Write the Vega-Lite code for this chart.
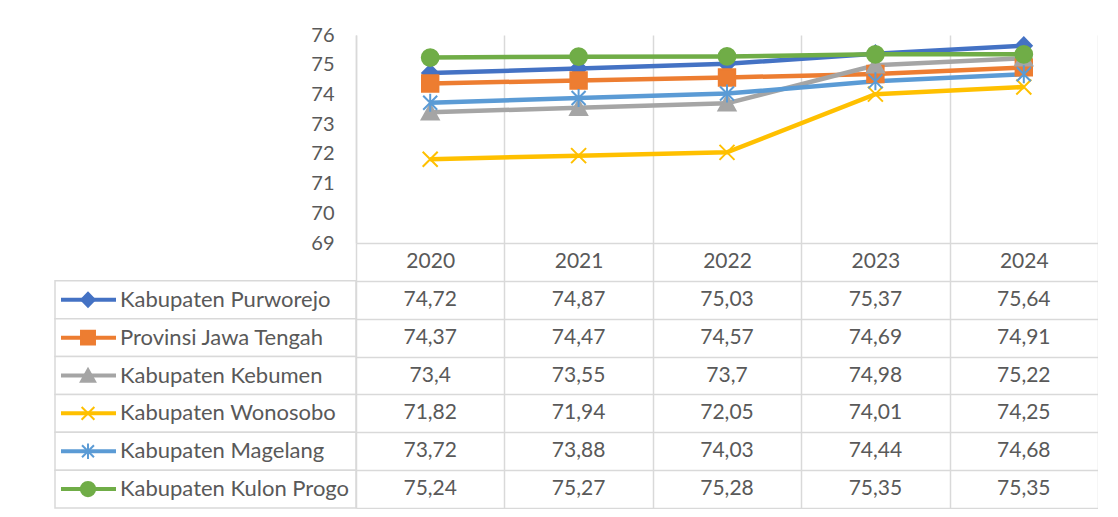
{
  "$schema": "https://vega.github.io/schema/vega-lite/v6.json",
  "padding": {"left": 54, "top": 25, "right": 0, "bottom": 0},
  "background": "white",
  "config": {
    "view": {"stroke": null},
    "font": "Lato",
    "locale": {"number": {"decimal": ",", "thousands": ".", "grouping": [3], "currency": ["", ""]}}
  },
  "datasets": {
    "ipm": [
      {"series": "Kabupaten Purworejo", "year": "2020", "value": 74.72},
      {"series": "Kabupaten Purworejo", "year": "2021", "value": 74.87},
      {"series": "Kabupaten Purworejo", "year": "2022", "value": 75.03},
      {"series": "Kabupaten Purworejo", "year": "2023", "value": 75.37},
      {"series": "Kabupaten Purworejo", "year": "2024", "value": 75.64},
      {"series": "Provinsi Jawa Tengah", "year": "2020", "value": 74.37},
      {"series": "Provinsi Jawa Tengah", "year": "2021", "value": 74.47},
      {"series": "Provinsi Jawa Tengah", "year": "2022", "value": 74.57},
      {"series": "Provinsi Jawa Tengah", "year": "2023", "value": 74.69},
      {"series": "Provinsi Jawa Tengah", "year": "2024", "value": 74.91},
      {"series": "Kabupaten Kebumen", "year": "2020", "value": 73.4},
      {"series": "Kabupaten Kebumen", "year": "2021", "value": 73.55},
      {"series": "Kabupaten Kebumen", "year": "2022", "value": 73.7},
      {"series": "Kabupaten Kebumen", "year": "2023", "value": 74.98},
      {"series": "Kabupaten Kebumen", "year": "2024", "value": 75.22},
      {"series": "Kabupaten Wonosobo", "year": "2020", "value": 71.82},
      {"series": "Kabupaten Wonosobo", "year": "2021", "value": 71.94},
      {"series": "Kabupaten Wonosobo", "year": "2022", "value": 72.05},
      {"series": "Kabupaten Wonosobo", "year": "2023", "value": 74.01},
      {"series": "Kabupaten Wonosobo", "year": "2024", "value": 74.25},
      {"series": "Kabupaten Magelang", "year": "2020", "value": 73.72},
      {"series": "Kabupaten Magelang", "year": "2021", "value": 73.88},
      {"series": "Kabupaten Magelang", "year": "2022", "value": 74.03},
      {"series": "Kabupaten Magelang", "year": "2023", "value": 74.44},
      {"series": "Kabupaten Magelang", "year": "2024", "value": 74.68},
      {"series": "Kabupaten Kulon Progo", "year": "2020", "value": 75.24},
      {"series": "Kabupaten Kulon Progo", "year": "2021", "value": 75.27},
      {"series": "Kabupaten Kulon Progo", "year": "2022", "value": 75.28},
      {"series": "Kabupaten Kulon Progo", "year": "2023", "value": 75.35},
      {"series": "Kabupaten Kulon Progo", "year": "2024", "value": 75.35}
    ]
  },
  "data": {"name": "ipm"},
  "columns": 2,
  "spacing": 0,
  "bounds": "flush",
  "align": "each",
  "concat": [
    {"width": 301, "height": 208, "data": {"values": []}, "mark": "point"},
    {
      "width": 742,
      "height": 208,
      "encoding": {
        "x": {"field": "year", "type": "nominal", "scale": {"type": "band", "paddingInner": 0, "paddingOuter": 0},
          "axis": {"title": null, "orient": "bottom", "grid": true, "tickBand": "extent", "gridColor": "#d9d9d9", "gridWidth": 1.5, "ticks": false, "domain": false, "labelAngle": 0, "labelFontSize": 21, "labelColor": "#595959", "labelPadding": 18, "labelBaseline": "middle"}},
        "y": {"field": "value", "type": "quantitative", "scale": {"domain": [69, 76], "nice": false, "zero": false},
          "axis": {"title": null, "values": [69, 70, 71, 72, 73, 74, 75, 76], "grid": false, "ticks": false, "domain": true, "domainColor": "#d9d9d9", "domainWidth": 1.5, "labelFontSize": 20, "labelColor": "#595959", "labelPadding": 22}},
        "color": {"field": "series", "type": "nominal",
          "scale": {"domain": ["Kabupaten Purworejo", "Provinsi Jawa Tengah", "Kabupaten Kebumen", "Kabupaten Wonosobo", "Kabupaten Magelang", "Kabupaten Kulon Progo"],
            "range": ["#4472C4", "#ED7D31", "#A5A5A5", "#FFC000", "#5B9BD5", "#70AD47"]}, "legend": null}
      },
      "layer": [
        {"mark": {"type": "line", "strokeWidth": 4.5}},
        {
          "mark": {"type": "point", "filled": true, "size": 400, "strokeWidth": 2, "opacity": 1},
          "encoding": {
            "stroke": {"field": "series", "type": "nominal",
              "scale": {"domain": ["Kabupaten Purworejo", "Provinsi Jawa Tengah", "Kabupaten Kebumen", "Kabupaten Wonosobo", "Kabupaten Magelang", "Kabupaten Kulon Progo"],
                "range": ["#4472C4", "#ED7D31", "#A5A5A5", "#FFC000", "#5B9BD5", "#70AD47"]}, "legend": null},
            "shape": {"field": "series", "type": "nominal",
              "scale": {"domain": ["Kabupaten Purworejo", "Provinsi Jawa Tengah", "Kabupaten Kebumen", "Kabupaten Wonosobo", "Kabupaten Magelang", "Kabupaten Kulon Progo"],
                "range": ["M0,-0.82L0.8,0L0,0.82L-0.8,0Z", "M-0.82,-0.82L0.82,-0.82L0.82,0.82L-0.82,0.82Z", "M0,-0.8L0.85,0.72L-0.85,0.72Z", "M-0.75,-0.75L0.75,0.75M-0.75,0.75L0.75,-0.75", "M-0.7,-0.7L0.7,0.7M-0.7,0.7L0.7,-0.7M0,-0.9L0,0.9", "M0.84,0A0.84,0.84 0 1,1 -0.84,0A0.84,0.84 0 1,1 0.84,0Z"]}, "legend": null}
          }
        }
      ]
    },
    {
      "width": 301,
      "height": 265,
      "transform": [{"filter": "datum.year === '2020'"}],
      "encoding": {
        "y": {"field": "series", "type": "nominal",
          "scale": {"type": "band", "domain": ["hdr", "Kabupaten Purworejo", "Provinsi Jawa Tengah", "Kabupaten Kebumen", "Kabupaten Wonosobo", "Kabupaten Magelang", "Kabupaten Kulon Progo"], "paddingInner": 0, "paddingOuter": 0},
          "axis": null},
        "color": {"field": "series", "type": "nominal",
          "scale": {"domain": ["Kabupaten Purworejo", "Provinsi Jawa Tengah", "Kabupaten Kebumen", "Kabupaten Wonosobo", "Kabupaten Magelang", "Kabupaten Kulon Progo"],
            "range": ["#4472C4", "#ED7D31", "#A5A5A5", "#FFC000", "#5B9BD5", "#70AD47"]}, "legend": null}
      },
      "layer": [
        {"mark": {"type": "rect", "fill": "white", "stroke": "#d9d9d9", "strokeWidth": 1.5}, "encoding": {"color": {"value": "white"}}},
        {"mark": {"type": "rule", "strokeWidth": 4}, "encoding": {"x": {"value": 6}, "x2": {"value": 61}}},
        {
          "mark": {"type": "point", "filled": true, "size": 290, "strokeWidth": 2, "opacity": 1},
          "encoding": {
            "x": {"value": 33},
            "stroke": {"field": "series", "type": "nominal",
              "scale": {"domain": ["Kabupaten Purworejo", "Provinsi Jawa Tengah", "Kabupaten Kebumen", "Kabupaten Wonosobo", "Kabupaten Magelang", "Kabupaten Kulon Progo"],
                "range": ["#4472C4", "#ED7D31", "#A5A5A5", "#FFC000", "#5B9BD5", "#70AD47"]}, "legend": null},
            "shape": {"field": "series", "type": "nominal",
              "scale": {"domain": ["Kabupaten Purworejo", "Provinsi Jawa Tengah", "Kabupaten Kebumen", "Kabupaten Wonosobo", "Kabupaten Magelang", "Kabupaten Kulon Progo"],
                "range": ["M0,-0.82L0.8,0L0,0.82L-0.8,0Z", "M-0.82,-0.82L0.82,-0.82L0.82,0.82L-0.82,0.82Z", "M0,-0.8L0.85,0.72L-0.85,0.72Z", "M-0.75,-0.75L0.75,0.75M-0.75,0.75L0.75,-0.75", "M-0.7,-0.7L0.7,0.7M-0.7,0.7L0.7,-0.7M0,-0.9L0,0.9", "M0.84,0A0.84,0.84 0 1,1 -0.84,0A0.84,0.84 0 1,1 0.84,0Z"]}, "legend": null}
          }
        },
        {"mark": {"type": "text", "align": "left", "baseline": "middle", "fontSize": 22, "color": "#595959"}, "encoding": {"x": {"value": 65}, "text": {"field": "series"}, "color": {"value": "#595959"}}}
      ]
    },
    {
      "width": 742,
      "height": 265,
      "mark": {"type": "text", "fontSize": 21, "color": "#595959", "baseline": "middle", "align": "center"},
      "encoding": {
        "x": {"field": "year", "type": "nominal", "scale": {"type": "band", "paddingInner": 0, "paddingOuter": 0},
          "axis": {"title": null, "labels": false, "ticks": false, "domain": false, "grid": true, "tickBand": "extent", "gridColor": "#d9d9d9", "gridWidth": 1.5, "orient": "top"}},
        "y": {"field": "series", "type": "nominal",
          "scale": {"type": "band", "domain": ["hdr", "Kabupaten Purworejo", "Provinsi Jawa Tengah", "Kabupaten Kebumen", "Kabupaten Wonosobo", "Kabupaten Magelang", "Kabupaten Kulon Progo"], "paddingInner": 0, "paddingOuter": 0},
          "axis": {"title": null, "labels": false, "ticks": false, "domain": false, "grid": true, "tickBand": "extent", "gridColor": "#d9d9d9", "gridWidth": 1.5}},
        "text": {"field": "value", "type": "quantitative", "format": ".2~f"}
      }
    }
  ]
}
